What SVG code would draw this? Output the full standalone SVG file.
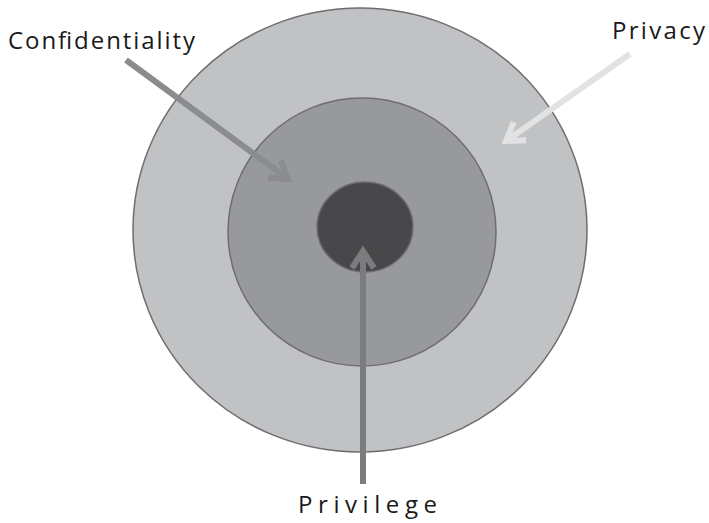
<svg xmlns="http://www.w3.org/2000/svg" width="709" height="523" viewBox="0 0 709 523">
<style>
.ring{stroke:#6d6e71;stroke-width:1.5}
.lbl{font-family:"Open Sans","Liberation Sans",sans-serif;font-size:24px;fill:#1a1a1a}
.arr{fill:none;stroke-width:6}
</style>
<defs>
<marker id="mC" markerUnits="userSpaceOnUse" markerWidth="40" markerHeight="40" refX="0" refY="0" viewBox="-20 -20 40 40" orient="auto" overflow="visible">
<path d="M-17,-11 L0,0 L-17,11" fill="none" stroke="#8a8c8e" stroke-width="6"/>
</marker>
<marker id="mP" markerUnits="userSpaceOnUse" markerWidth="40" markerHeight="40" refX="0" refY="0" viewBox="-20 -20 40 40" orient="auto" overflow="visible">
<path d="M-17,-11 L0,0 L-17,11" fill="none" stroke="#e1e2e3" stroke-width="6"/>
</marker>
<marker id="mV" markerUnits="userSpaceOnUse" markerWidth="40" markerHeight="40" refX="0" refY="0" viewBox="-20 -20 40 40" orient="auto" overflow="visible">
<path d="M-17,-11 L0,0 L-17,11" fill="none" stroke="#7b7c7e" stroke-width="6"/>
</marker>
</defs>
<rect width="709" height="523" fill="#ffffff"/>
<g id="privacy">
<ellipse class="ring" cx="360" cy="230" rx="227" ry="222" fill="#c1c2c4"/>
</g>
<g id="confidentiality">
<ellipse class="ring" cx="362" cy="232" rx="134" ry="134" fill="#98999c"/>
</g>
<g id="privilege">
<ellipse class="ring" cx="365" cy="227" rx="48" ry="45" fill="#48484a"/>
</g>
<g id="connectors">
<line class="arr" x1="126" y1="60" x2="288" y2="179" stroke="#8a8c8e" marker-end="url(#mC)"/>
<line class="arr" x1="630" y1="54" x2="506" y2="141" stroke="#e1e2e3" marker-end="url(#mP)"/>
<line class="arr" x1="363" y1="484" x2="363" y2="251" stroke="#7b7c7e" marker-end="url(#mV)"/>
</g>
<g id="labels">
<text class="lbl" x="8" y="49" textLength="187" lengthAdjust="spacing">Confidentiality</text>
<text class="lbl" x="612" y="39" textLength="93" lengthAdjust="spacing">Privacy</text>
<text class="lbl" x="298" y="513" textLength="139" lengthAdjust="spacing">Privilege</text>
</g>
</svg>
